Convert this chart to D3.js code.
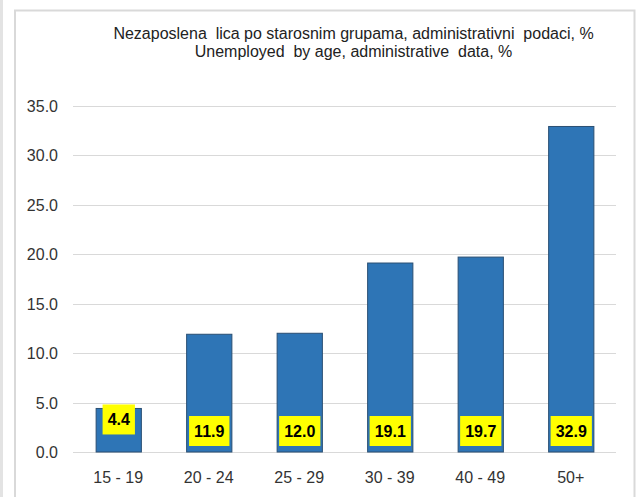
<!DOCTYPE html>
<html><head><meta charset="utf-8">
<script src="https://cdn.jsdelivr.net/npm/d3@7"></script>
<style>html,body{margin:0;padding:0;background:#fff;}svg{display:block;}</style>
</head><body>
<script>
const categories = ["15 - 19", "20 - 24", "25 - 29", "30 - 39", "40 - 49", "50+"];
const values = [4.4, 11.9, 12.0, 19.1, 19.7, 32.9];
const yTicks = [0, 5, 10, 15, 20, 25, 30, 35];
const titleLines = ["Nezaposlena  lica po starosnim grupama, administrativni  podaci, %", "Unemployed  by age, administrative  data, %"];

const W = 638, H = 497;
const svg = d3.select("body").append("svg").attr("width", W).attr("height", H);
const font = "'Liberation Sans Narrow','Arial Narrow','Liberation Sans',sans-serif";

// frame
svg.append("rect").attr("x", 0).attr("y", 0).attr("width", 3).attr("height", H).attr("fill", "#e3e3e3");
svg.append("rect").attr("x", 15).attr("y", 10.5).attr("width", 619.5).attr("height", H + 20)
  .attr("fill", "none").attr("stroke", "#d9d9d9").attr("stroke-width", 2);

const x = d3.scaleBand().domain(categories).range([73, 616]).paddingInner(0.5).paddingOuter(0.25);
const y = d3.scaleLinear().domain([0, 35]).range([452, 105.7]);

// grid
svg.append("g").selectAll("line").data(yTicks).join("line")
  .attr("x1", 73).attr("x2", 616)
  .attr("y1", d => Math.round(y(d)) + 0.5).attr("y2", d => Math.round(y(d)) + 0.5)
  .attr("stroke", "#d9d9d9").attr("stroke-width", 1);

// y axis labels
const yAxis = d3.axisLeft(y).tickValues(yTicks).tickFormat(d3.format(".1f")).tickSize(0).tickPadding(0);
const yg = svg.append("g").attr("transform", "translate(58,0)").call(yAxis);
yg.select(".domain").remove();
yg.selectAll("text").attr("font-family", font).attr("font-size", 16).attr("fill", "#333").attr("dy", "0.35em");

// x axis labels
const xAxis = d3.axisBottom(x).tickSize(0).tickPadding(0);
const xg = svg.append("g").attr("transform", "translate(0,472)").call(xAxis);
xg.select(".domain").remove();
xg.selectAll("text").attr("font-family", font).attr("font-size", 16).attr("fill", "#333").attr("dy", "0.71em");

// bars
svg.append("g").selectAll("rect").data(values).join("rect")
  .attr("x", (d, i) => x(categories[i]) + 0.5)
  .attr("y", d => y(d))
  .attr("width", x.bandwidth())
  .attr("height", d => y(0) - y(d))
  .attr("fill", "#2e75b6").attr("stroke", "#2a4f73").attr("stroke-width", 1);

// data labels
const lg = svg.append("g");
const boxH = 30;
values.forEach((v, i) => {
  const cx = x(categories[i]) + x.bandwidth() / 2 + 0.5;
  const barH = y(0) - y(v);
  const bottom = barH < 2 * boxH ? y(v) + 26 : y(0) - 6;
  const t = lg.append("text").attr("x", cx).attr("y", bottom - 9)
    .attr("text-anchor", "middle").attr("font-family", font).attr("font-weight", "bold")
    .attr("font-size", 16).attr("fill", "#000").text(d3.format(".1f")(v));
  const bb = t.node().getBBox();
  const w = bb.width + 10;
  lg.insert("rect", "text").attr("x", cx - w / 2).attr("y", bottom - boxH).attr("width", w).attr("height", boxH)
    .attr("fill", "#ffff00");
});

// title
svg.append("g").selectAll("text").data(titleLines).join("text")
  .attr("x", 353.5).attr("y", (d, i) => 39 + i * 18)
  .attr("text-anchor", "middle").attr("font-family", font).attr("font-size", 16)
  .attr("fill", "#222").style("white-space", "pre").text(d => d);
</script>
</body></html>
